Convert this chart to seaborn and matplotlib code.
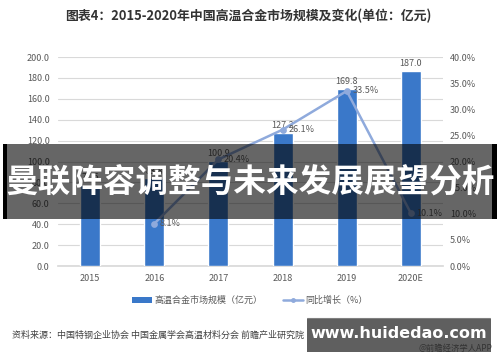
import numpy as np
import pandas as pd
import matplotlib
matplotlib.use("Agg")
import matplotlib.pyplot as plt
import seaborn as sns
from matplotlib.patches import Rectangle
from matplotlib.lines import Line2D
from matplotlib.patches import Patch

# ============================================================
# DATA
# ============================================================
years = ["2015", "2016", "2017", "2018", "2019", "2020E"]
market_size = [77.5, 83.8, 100.9, 127.2, 169.8, 187.0]
growth = [np.nan, 8.1, 20.4, 26.1, 33.5, 10.1]

title = "图表4：2015-2020年中国高温合金市场规模及变化(单位：亿元)"
bar_label = "高温合金市场规模（亿元）"
line_label = "同比增长（%）"
source = "资料来源：中国特钢企业协会 中国金属学会高温材料分会 前瞻产业研究院"
banner = "曼联阵容调整与未来发展展望分析"

bar_color = "#3a78c9"
line_color = "#8faadc"
tick_color = "#595959"

sns.set_theme(style="white")
plt.rcParams["font.family"] = ["Noto Sans CJK SC", "DejaVu Sans"]

df = pd.DataFrame({"year": years, "size": market_size, "growth": growth})

fig = plt.figure(figsize=(5, 3.62), dpi=100)
ax = fig.add_axes([0.116, 0.265, 0.77, 0.5775])

# 柱状图
sns.barplot(data=df, x="year", y="size", color=bar_color, width=0.31,
            saturation=1, ax=ax, zorder=3)
ax.bar_label(ax.containers[0], fmt="%.1f", padding=2, fontsize=6.5, color=tick_color)
ax.set_ylim(0, 200)
ax.set_yticks(np.arange(0, 201, 20))
ax.set_yticklabels([f"{v:.1f}" for v in np.arange(0, 201, 20)])
ax.yaxis.grid(True, color="#d9d9d9", linewidth=0.8, zorder=0)
ax.set_xlabel("")
ax.set_ylabel("")
for s in ["top", "right", "left"]:
    ax.spines[s].set_visible(False)
ax.spines["bottom"].set_color("#d9d9d9")
ax.tick_params(axis="both", labelsize=6.5, colors=tick_color, length=0, pad=6)

# 折线图 (右轴)
ax2 = ax.twinx()
sns.pointplot(data=df, x="year", y="growth", order=years, color=line_color,
              markers="o", markersize=3.5, linewidth=1.8, ax=ax2)
ax2.set_ylim(0, 40)
ax2.set_yticks(np.arange(0, 41, 5))
ax2.set_yticklabels([f"{v:.1f}%" for v in np.arange(0, 41, 5)])
ax2.set_ylabel("")
ax2.set_xlim(-0.5, 5.5)
ax.set_xlim(-0.5, 5.5)
for s in ["top", "right", "left", "bottom"]:
    ax2.spines[s].set_visible(False)
ax2.tick_params(axis="y", labelsize=6.5, colors=tick_color, length=0, pad=5)
for i, g in enumerate(growth):
    if not np.isnan(g):
        ax2.annotate(f"{g}%", (i, g), xytext=(4, 0), textcoords="offset points",
                     fontsize=6.5, color=tick_color, va="center", ha="left")

# 标题
fig.text(0.496, 0.956, title, ha="center", va="center", fontsize=9.3,
         fontweight="bold", color="#333333")

# 图例
handles = [Patch(facecolor=bar_color, edgecolor="none"),
           Line2D([0], [0], color=line_color, marker="o", markersize=2.5, linewidth=1.8)]
fig.legend(handles, [bar_label, line_label], loc="center", bbox_to_anchor=(0.5, 0.17),
           ncol=2, frameon=False, fontsize=6.5, handlelength=2.2, handleheight=0.6,
           handletextpad=0.3, columnspacing=2.2, labelcolor=tick_color)

# 资料来源
fig.text(0.024, 0.075, source, ha="left", va="center", fontsize=6.5, color="#404040")
fig.add_artist(Line2D([0.614, 0.98], [0.121, 0.121], color="#808080", linewidth=0.8))

# 横幅
fig.add_artist(Rectangle((0.006, 0.395), 0.988, 0.207, transform=fig.transFigure,
                         facecolor="black", alpha=0.6, edgecolor="none", zorder=10))
fig.add_artist(Rectangle((0.006, 0.395), 0.008, 0.207, transform=fig.transFigure,
                         facecolor="black", edgecolor="none", zorder=11))
fig.add_artist(Rectangle((0.984, 0.395), 0.010, 0.207, transform=fig.transFigure,
                         facecolor="black", edgecolor="none", zorder=11))
fig.text(0.5, 0.494, banner, ha="center", va="center", fontsize=23.5,
         fontweight="bold", color="white", zorder=12)

# 网址水印
fig.add_artist(Rectangle((0.614, 0.028), 0.368, 0.091, transform=fig.transFigure,
                         facecolor="#5f5f5f", edgecolor="none", zorder=10))
fig.text(0.797, 0.08, "www.huidedao.com", ha="center", va="center", fontsize=11.5,
         fontweight="bold", color="white", family=["DejaVu Sans"], zorder=12)
fig.text(0.984, 0.038, "@前瞻经济学人APP", ha="right", va="center", fontsize=6,
         color="#333333", zorder=13)

fig.savefig("out.png", dpi=100)
